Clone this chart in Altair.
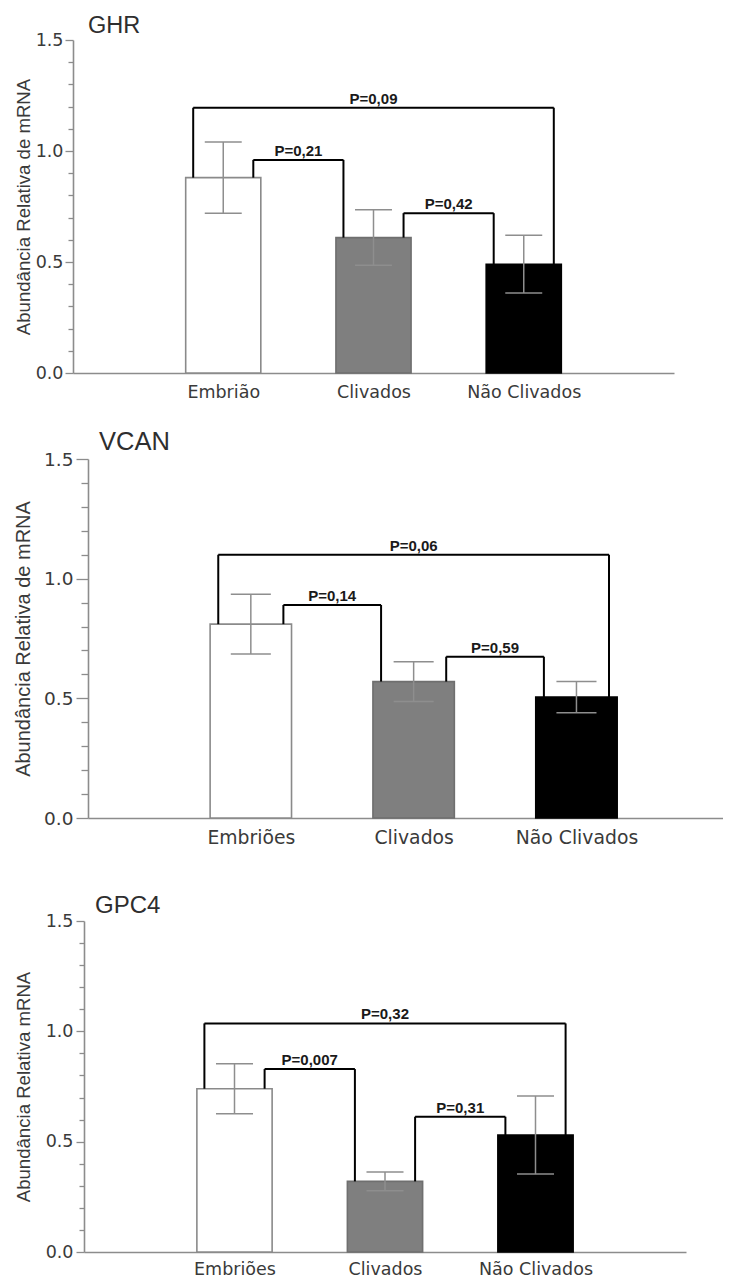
import altair as alt
import pandas as pd

# ---------------- data ----------------
ghr_groups = ["Embrião", "Clivados", "Não Clivados"]
ghr_mean = [0.88, 0.61, 0.49]
ghr_sem = [0.16, 0.125, 0.13]
ghr_pairs = [(0, 2), (0, 1), (1, 2)]
ghr_bracket_y = [1.195, 0.96, 0.72]
ghr_p = ["P=0,09", "P=0,21", "P=0,42"]

vcan_groups = ["Embriões", "Clivados", "Não Clivados"]
vcan_mean = [0.81, 0.57, 0.505]
vcan_sem = [0.125, 0.083, 0.065]
vcan_pairs = [(0, 2), (0, 1), (1, 2)]
vcan_bracket_y = [1.10, 0.89, 0.674]
vcan_p = ["P=0,06", "P=0,14", "P=0,59"]

gpc4_groups = ["Embriões", "Clivados", "Não Clivados"]
gpc4_mean = [0.74, 0.32, 0.53]
gpc4_sem = [0.113, 0.042, 0.177]
gpc4_pairs = [(0, 2), (0, 1), (1, 2)]
gpc4_bracket_y = [1.036, 0.829, 0.613]
gpc4_p = ["P=0,32", "P=0,007", "P=0,31"]

y_tick_values = [0.0, 0.1, 0.2, 0.3, 0.4, 0.5, 0.6, 0.7, 0.8, 0.9,
                 1.0, 1.1, 1.2, 1.3, 1.4, 1.5]
x_tick_values = [1, 2, 3]

# ---------------- styles ----------------
FILLS = ["#ffffff", "#7f7f7f", "#000000"]
STROKES = ["#8a8a8a", "#6f6f6f", "#000000"]
AXIS_GREY = "#8c8c8c"
ERR_GREY = "#8e8e8e"
HALF_BAR = 0.25
HALF_CAP = 0.123
LEG_OFF = 0.2


def panel(name, groups, mean, sem, pairs, bry, plabels, ytitle, geo):
    pos = list(range(1, len(groups) + 1))
    bars = pd.DataFrame({"group": groups, "pos": pos, "mean": mean, "sem": sem})

    br_rows, leg_rows = [], []
    for (a, b), h, lab in zip(pairs, bry, plabels):
        outer = (b - a) > 1
        xl = pos[a] + (-LEG_OFF if outer else LEG_OFF)
        xr = pos[b] + (LEG_OFF if outer else -LEG_OFF)
        br_rows.append({"xl": xl, "xr": xr, "h": h, "mid": (xl + xr) / 2, "label": lab})
        leg_rows.append({"x": xl, "top": h, "bottom": mean[a]})
        leg_rows.append({"x": xr, "top": h, "bottom": mean[b]})
    br = pd.DataFrame(br_rows)
    legs = pd.DataFrame(leg_rows)

    shift = geo["shift"]
    lab_js = "[''," + ",".join("'" + g + "'" for g in groups) + "]"
    xscale = alt.Scale(domain=[0, geo["xmax"]], nice=False, zero=False,
                       range=[shift, shift + geo["w"]])
    yscale = alt.Scale(domain=[0, 1.5], nice=False)
    major = "abs(datum.value*2 - round(datum.value*2)) < 0.001"
    xaxis = alt.Axis(
        values=x_tick_values, title=None, grid=False, ticks=False, tickSize=0,
        labelExpr=lab_js + "[datum.value]", labelFont="DejaVu Sans",
        labelFontSize=geo["xlab"], labelColor="#3a3a3a", labelPadding=geo["xpad"],
        domainColor=AXIS_GREY, domainWidth=1.6, labelOverlap=False, labelFlush=False,
    )
    yaxis = alt.Axis(
        values=y_tick_values, title=ytitle, grid=False, offset=-shift,
        labelExpr=major + " ? format(datum.value, '.1f') : ''",
        labelFont="DejaVu Sans", labelFontSize=geo["ylab"], labelColor="#3a3a3a",
        labelPadding=geo["ylpad"], labelOverlap=False,
        tickSize={"condition": {"test": major, "value": geo["tmaj"]}, "value": geo["tmin"]},
        tickColor=AXIS_GREY, tickWidth=1.3, domainColor=AXIS_GREY, domainWidth=1.6,
        titleFont="Liberation Sans", titleFontSize=geo["ytitle"], titleFontWeight="normal",
        titleColor="#3a3a3a", titlePadding=geo["tpad"],
    )

    def X(f):
        return alt.X(f, type="quantitative", scale=xscale, axis=xaxis)

    def Y(f):
        return alt.Y(f, type="quantitative", scale=yscale, axis=yaxis)

    bar_layer = alt.Chart(bars).transform_calculate(
        x0=f"datum.pos - {HALF_BAR}", x1=f"datum.pos + {HALF_BAR}", base="0"
    ).mark_bar(strokeWidth=1.6).encode(
        x=X("x0"), x2="x1:Q", y=Y("mean"), y2="base:Q",
        fill=alt.Fill("group:N", scale=alt.Scale(domain=groups, range=FILLS), legend=None),
        stroke=alt.Stroke("group:N", scale=alt.Scale(domain=groups, range=STROKES), legend=None),
    )

    err_base = alt.Chart(bars).transform_calculate(
        lo="datum.mean - datum.sem", hi="datum.mean + datum.sem",
        c0=f"datum.pos - {HALF_CAP}", c1=f"datum.pos + {HALF_CAP}",
    )
    err_line = err_base.mark_rule(color=ERR_GREY, strokeWidth=1.5).encode(
        x=X("pos"), y=Y("lo:Q"), y2="hi:Q"
    )
    caps = err_base.transform_fold(["lo", "hi"], as_=["end", "cy"]).mark_rule(
        color=ERR_GREY, strokeWidth=1.5
    ).encode(x=X("c0:Q"), x2="c1:Q", y=Y("cy:Q"))

    horiz = alt.Chart(br).mark_rule(color="#000000", strokeWidth=2).encode(
        x=X("xl"), x2="xr:Q", y=Y("h")
    )
    leg_layer = alt.Chart(legs).mark_rule(color="#000000", strokeWidth=2).encode(
        x=X("x"), y=Y("bottom"), y2="top:Q"
    )
    txt = alt.Chart(br).mark_text(
        baseline="alphabetic", dy=-4, font="Liberation Sans", fontWeight="bold",
        fontSize=geo["pfont"], color="#1a1a1a",
    ).encode(x=X("mid"), y=Y("h"), text="label:N")

    return alt.layer(bar_layer, err_line, caps, horiz, leg_layer, txt).properties(
        width=geo["w"] + shift, height=geo["h"],
        title=alt.TitleParams(
            name, anchor="start", frame="group", dx=geo["tdx"], fontSize=geo["tfont"],
            font="Liberation Sans", fontWeight="normal", color="#2e2e2e",
            baseline="alphabetic", offset=geo["toff"],
        ),
    )


geo1 = dict(w=601, h=333, xmax=4.0, shift=0, xlab=17.5, xpad=10, ylab=17.5, ylpad=2,
            tmaj=8, tmin=5, ytitle=18.6, tpad=2, pfont=15, tdx=15, tfont=23.5, toff=-25)
geo2 = dict(w=635, h=359, xmax=3.9, shift=15, xlab=18.8, xpad=10, ylab=18.5, ylpad=3,
            tmaj=12, tmin=7, ytitle=20, tpad=10, pfont=15, tdx=26, tfont=25.5, toff=-25)
geo3 = dict(w=602, h=331, xmax=4.0, shift=11, xlab=17.5, xpad=8, ylab=17.5, ylpad=3,
            tmaj=8, tmin=5, ytitle=18.6, tpad=12, pfont=15, tdx=22, tfont=24, toff=-25)

p1 = panel("GHR", ghr_groups, ghr_mean, ghr_sem, ghr_pairs, ghr_bracket_y, ghr_p,
           "Abundância Relativa de mRNA", geo1)
p2 = panel("VCAN", vcan_groups, vcan_mean, vcan_sem, vcan_pairs, vcan_bracket_y, vcan_p,
           "Abundância Relativa de mRNA", geo2)
p3 = panel("GPC4", gpc4_groups, gpc4_mean, gpc4_sem, gpc4_pairs, gpc4_bracket_y, gpc4_p,
           "Abundância Relativa mRNA", geo3)

top = alt.concat(p1, p2, columns=1, spacing=28, align="none")
chart = alt.concat(top, p3, columns=1, spacing=47, align="none").properties(
    padding={"left": 5, "top": 5, "right": 0, "bottom": 0}
).configure_view(stroke=None)

chart.save("out.html", embed_options={"renderer": "svg", "actions": False})
